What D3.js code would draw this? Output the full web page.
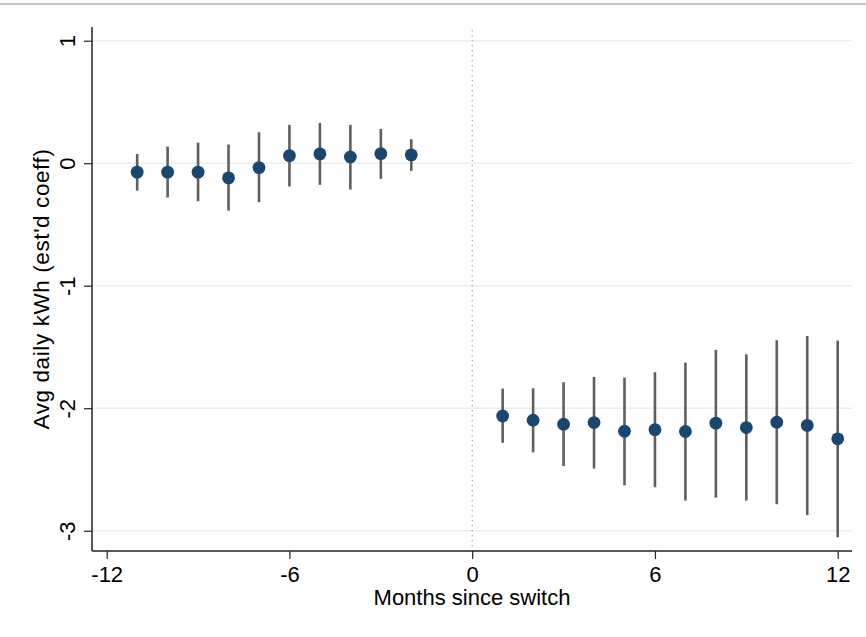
<!DOCTYPE html>
<html>
<head>
<meta charset="utf-8">
<script src="https://cdn.jsdelivr.net/npm/d3@7"></script>
<style>
  html, body { margin: 0; padding: 0; background: #fff; }
  svg { display: block; font-family: "Liberation Sans", Arial, Helvetica, sans-serif; }
</style>
</head>
<body>
<svg id="chart" width="866" height="637"></svg>
<script>
// ---- DATA ----
const months   = [-11, -10, -9, -8, -7, -6, -5, -4, -3, -2, 1, 2, 3, 4, 5, 6, 7, 8, 9, 10, 11, 12];
const coef     = [-0.073, -0.073, -0.073, -0.120, -0.036, 0.062, 0.076, 0.051, 0.078, 0.068,
                  -2.063, -2.098, -2.131, -2.117, -2.188, -2.175, -2.190, -2.122, -2.158, -2.114, -2.140, -2.250];
const ciHigh   = [0.076, 0.136, 0.168, 0.152, 0.253, 0.313, 0.329, 0.313, 0.280, 0.196,
                  -1.840, -1.837, -1.788, -1.745, -1.750, -1.706, -1.628, -1.524, -1.560, -1.445, -1.410, -1.448];
const ciLow    = [-0.224, -0.280, -0.310, -0.387, -0.318, -0.190, -0.177, -0.215, -0.128, -0.063,
                  -2.283, -2.360, -2.473, -2.493, -2.629, -2.645, -2.754, -2.730, -2.754, -2.784, -2.873, -3.053];
const xTicks   = [-12, -6, 0, 6, 12];
const yTicks   = [1, 0, -1, -2, -3];
const xTitle   = 'Months since switch';
const yTitle   = "Avg daily kWh (est'd coeff)";

const points = months.map((m, i) => ({ m, b: coef[i], hi: ciHigh[i], lo: ciLow[i] }));

// ---- LAYOUT ----
const svg = d3.select('#chart');
const x = d3.scaleLinear().domain([-12, 12]).range([106.7, 837.7]);
const y = d3.scaleLinear().domain([1, -3]).range([40.7, 530.7]);
const xLeft = 92, xRight = 852, yTop = 27, yBottom = 551;

// thin gray rule at the very top
svg.append('rect')
  .attr('x', 0).attr('y', 3).attr('width', 866).attr('height', 2)
  .attr('fill', '#c6c6c6');

// gridlines
svg.append('g').selectAll('line')
  .data(yTicks)
  .join('line')
  .attr('x1', xLeft).attr('x2', xRight)
  .attr('y1', d => y(d)).attr('y2', d => y(d))
  .attr('stroke', '#e6eff1')
  .attr('stroke-width', 1.5);

// switch marker
svg.append('line')
  .attr('x1', x(0)).attr('x2', x(0))
  .attr('y1', 30).attr('y2', 548)
  .attr('stroke', '#d9707f')
  .attr('stroke-width', 1)
  .attr('stroke-dasharray', '1.3,3.7');

// error bars
svg.append('g').selectAll('line')
  .data(points)
  .join('line')
  .attr('x1', d => x(d.m)).attr('x2', d => x(d.m))
  .attr('y1', d => y(d.hi)).attr('y2', d => y(d.lo))
  .attr('stroke', '#5f5f5f')
  .attr('stroke-width', 2.6);

// point estimates
svg.append('g').selectAll('circle')
  .data(points)
  .join('circle')
  .attr('cx', d => x(d.m))
  .attr('cy', d => y(d.b))
  .attr('r', 6.4)
  .attr('fill', '#1a476f');

// ---- AXES ----
const xAxis = d3.axisBottom(x).tickValues(xTicks).tickSize(8).tickSizeOuter(0)
  .tickFormat(d => d < 0 ? '-' + Math.abs(d) : d);
const gx = svg.append('g').attr('transform', `translate(0,${yBottom})`).call(xAxis);
gx.select('.domain').remove();
gx.append('line')
  .attr('x1', xLeft).attr('x2', xRight).attr('y1', 0).attr('y2', 0)
  .attr('stroke', '#222').attr('stroke-width', 1.5);
gx.selectAll('.tick line').attr('stroke', '#222').attr('stroke-width', 1.2);
gx.selectAll('.tick text')
  .attr('fill', '#000')
  .attr('font-size', 22)
  .attr('y', 31).attr('dy', 0);

const yAxis = d3.axisLeft(y).tickValues(yTicks).tickSize(8).tickSizeOuter(0)
  .tickFormat(d => d < 0 ? '-' + Math.abs(d) : d);
const gy = svg.append('g').attr('transform', `translate(${xLeft},0)`).call(yAxis);
gy.select('.domain').remove();
gy.append('line')
  .attr('x1', 0).attr('x2', 0).attr('y1', yTop).attr('y2', yBottom)
  .attr('stroke', '#222').attr('stroke-width', 1.5);
gy.selectAll('.tick line').attr('stroke', '#222').attr('stroke-width', 1.2);
gy.selectAll('.tick text')
  .attr('fill', '#000')
  .attr('font-size', 22)
  .attr('x', null).attr('dy', null)
  .attr('text-anchor', 'middle')
  .attr('transform', 'translate(-17,0) rotate(-90)');

// ---- TITLES ----
svg.append('text')
  .attr('x', 472).attr('y', 605)
  .attr('text-anchor', 'middle')
  .attr('font-size', 22)
  .attr('fill', '#000')
  .text(xTitle);

svg.append('text')
  .attr('transform', 'translate(49,289) rotate(-90)')
  .attr('text-anchor', 'middle')
  .attr('font-size', 22.5)
  .attr('letter-spacing', 0.6)
  .attr('fill', '#000')
  .text(yTitle);
</script>
</body>
</html>
